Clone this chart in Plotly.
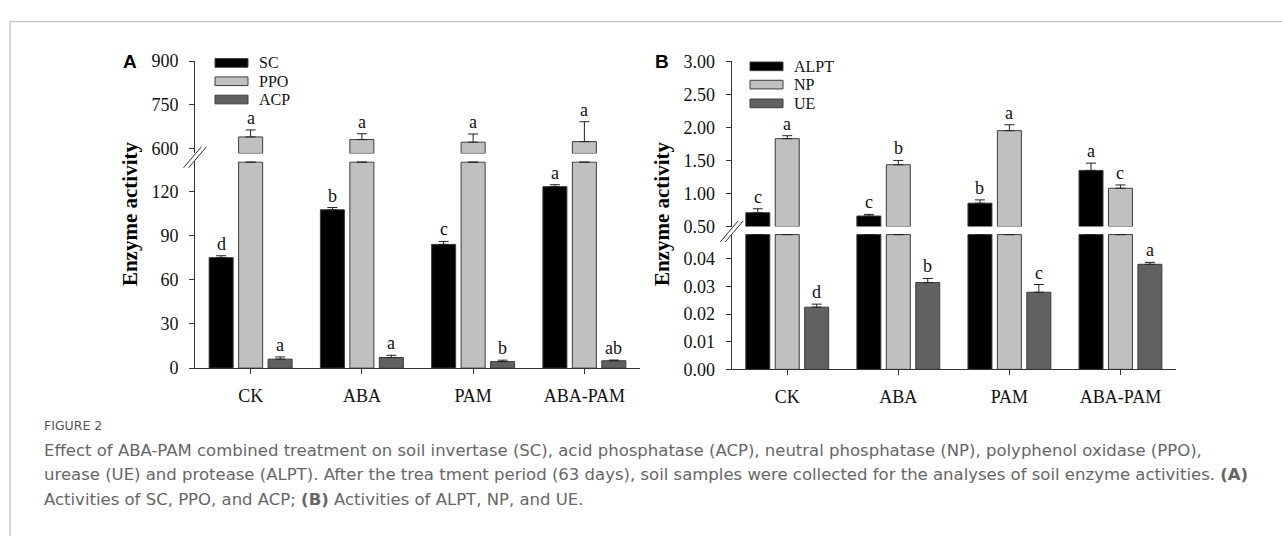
import plotly.graph_objects as go

W, H = 1282, 536

categories = ["CK", "ABA", "PAM", "ABA-PAM"]

# Panel A
a_names = ["SC", "PPO", "ACP"]
sc_mean = [75.0, 107.5, 84.0, 123.2]
sc_err = [1.3, 1.5, 2.0, 1.3]
sc_sig = ["d", "b", "c", "a"]
ppo_mean = [640.0, 631.0, 622.0, 624.0]
ppo_err = [24.0, 20.0, 28.0, 68.0]
ppo_sig = ["a", "a", "a", "a"]
acp_mean = [6.1, 7.2, 4.4, 5.0]
acp_err = [1.5, 1.5, 1.0, 0.5]
acp_sig = ["a", "a", "b", "ab"]

# Panel B
b_names = ["ALPT", "NP", "UE"]
alpt_mean = [0.71, 0.66, 0.854, 1.35]
alpt_err = [0.06, 0.025, 0.05, 0.11]
alpt_sig = ["c", "c", "b", "a"]
np_mean = [1.83, 1.436, 1.951, 1.08]
np_err = [0.045, 0.065, 0.09, 0.05]
np_sig = ["a", "b", "a", "c"]
ue_mean = [0.0225, 0.0314, 0.0279, 0.0380]
ue_err = [0.0011, 0.0015, 0.0028, 0.0007]
ue_sig = ["d", "b", "c", "a"]

a_ticks_low = [0, 30, 60, 90, 120]
a_ticks_high = [600, 750, 900]
b_ticks_low = [0, 0.01, 0.02, 0.03, 0.04]
b_ticks_high = [0.5, 1.0, 1.5, 2.0, 2.5, 3.0]

fills = ["#000000", "#c0c0c0", "#616161"]
edge = "#3c3c3c"
serif = "Liberation Serif"
offsets = [-0.265, 0.0, 0.265]
bar_w = 0.216


def px(x):
    return x / W


def py(y):
    return 1 - y / H


fig = go.Figure()

panels = [
    dict(xa="x", ya_low="y", ya_high="y2",
         series=[(sc_mean, sc_err, sc_sig), (ppo_mean, ppo_err, ppo_sig), (acp_mean, acp_err, acp_sig)],
         low_top=140.5, low_px=215, high_bottom=583.5, high_top=900),
    dict(xa="x2", ya_low="y3", ya_high="y4",
         series=[(alpt_mean, alpt_err, alpt_sig), (np_mean, np_err, np_sig), (ue_mean, ue_err, ue_sig)],
         low_top=0.0491, low_px=141, high_bottom=0.5, high_top=3.0),
]

annotations = []
for p in panels:
    cap = p["low_top"] * (1 - 1.0 / p["low_px"])
    for j, (mean, err, sig) in enumerate(p["series"]):
        xs = [i + offsets[j] for i in range(len(categories))]
        high = [m > p["low_top"] for m in mean]
        # lower segment: bars that exceed the segment are closed just below its top
        fig.add_trace(go.Bar(
            x=xs, y=[min(m, cap) for m in mean], width=bar_w, xaxis=p["xa"], yaxis=p["ya_low"],
            marker=dict(color=fills[j], line=dict(color=edge, width=1)),
            error_y=dict(type="data", symmetric=False,
                         array=[0 if h else e for e, h in zip(err, high)],
                         arrayminus=[0] * len(mean), color="#222222", thickness=1, width=5),
            showlegend=False, hoverinfo="skip"))
        # upper segment: only the bars that reach it, starting at the segment bottom
        hx = [x for x, h in zip(xs, high) if h]
        if hx:
            fig.add_trace(go.Bar(
                x=hx, y=[m - p["high_bottom"] for m, h in zip(mean, high) if h],
                base=p["high_bottom"], width=bar_w, xaxis=p["xa"], yaxis=p["ya_high"],
                marker=dict(color=fills[j], line=dict(color=edge, width=1)),
                error_y=dict(type="data", symmetric=False,
                             array=[e for e, h in zip(err, high) if h],
                             arrayminus=[0] * len(hx), color="#222222", thickness=1, width=5),
                showlegend=False, hoverinfo="skip"))
        for i in range(len(categories)):
            annotations.append(dict(
                x=xs[i], y=mean[i] + err[i],
                xref=p["xa"], yref=p["ya_high"] if high[i] else p["ya_low"],
                text=sig[i], showarrow=False, yanchor="bottom", yshift=0,
                font=dict(family=serif, size=18, color="#111")))

common_axis = dict(showline=True, linecolor="#333", linewidth=1, ticks="outside",
                   ticklen=5, tickcolor="#333", showgrid=False, zeroline=False,
                   tickfont=dict(family=serif, size=18, color="#111"))

fig.update_layout(
    width=W, height=H, autosize=False,
    margin=dict(l=0, r=0, t=0, b=0),
    paper_bgcolor="white", plot_bgcolor="rgba(0,0,0,0)",
    barmode="overlay", showlegend=False,
    xaxis=dict(domain=[px(195), px(640)], range=[-0.5, 3.5], anchor="y",
               tickvals=list(range(4)), ticktext=categories, ticklabelstandoff=6, **common_axis),
    yaxis=dict(domain=[py(372), py(157)], range=[0, 140.5], anchor="x",
               tickvals=a_ticks_low, ticklabelstandoff=7, **common_axis),
    yaxis2=dict(domain=[py(149), py(53)], range=[583.5, 900], anchor="x",
                tickvals=a_ticks_high, ticklabelstandoff=7, **common_axis),
    xaxis2=dict(domain=[px(731.7), px(1176)], range=[-0.5, 3.5], anchor="y3",
                tickvals=list(range(4)), ticktext=categories, ticklabelstandoff=6, **common_axis),
    yaxis3=dict(domain=[py(373.3), py(232.3)], range=[0, 0.0491], anchor="x2",
                tickvals=b_ticks_low, tickformat=".2f", ticklabelstandoff=7, **common_axis),
    yaxis4=dict(domain=[py(225), py(53.3)], range=[0.5, 3.0], anchor="x2",
                tickvals=b_ticks_high, tickformat=".2f", ticklabelstandoff=7, **common_axis),
)

shapes = []
# outer frame
shapes.append(dict(type="rect", xref="paper", yref="paper",
                   x0=px(10), x1=px(1300), y0=py(560), y1=py(12),
                   line=dict(color="#c9c9c9", width=1.5), fillcolor="rgba(0,0,0,0)"))

# axis break marks
for ax_x, yc0 in [(195, 153), (731.7, 230)]:
    for dx in (-2.5, 2.5):
        xc = ax_x + dx
        shapes.append(dict(type="line", xref="paper", yref="paper",
                           x0=px(xc - 9), x1=px(xc + 9), y0=py(yc0 + 11), y1=py(yc0 - 11),
                           line=dict(color="#333", width=1)))

# legends
legend_defs = [(a_names, 215, 257, [55, 74, 93]), (b_names, 750, 792, [58.5, 77.5, 97])]
for names, lx, tx, rows in legend_defs:
    for j, name in enumerate(names):
        yc = rows[j]
        shapes.append(dict(type="rect", xref="paper", yref="paper",
                           x0=px(lx), x1=px(lx + 33), y0=py(yc + 4.5), y1=py(yc - 4.5),
                           fillcolor=fills[j], line=dict(color=edge, width=1)))
        annotations.append(dict(x=px(tx), y=py(yc), xref="paper", yref="paper",
                                text=name, showarrow=False, xanchor="left", yanchor="middle",
                                font=dict(family=serif, size=16, color="#111")))

# panel letters and axis titles
for letter, lx in [("A", 130), ("B", 662)]:
    annotations.append(dict(x=px(lx), y=py(53), xref="paper", yref="paper", text="<b>%s</b>" % letter,
                            showarrow=False, xanchor="center", yanchor="middle",
                            font=dict(family="Liberation Sans", size=19, color="#000")))
for tx in [130, 662]:
    annotations.append(dict(x=px(tx), y=py(212), xref="paper", yref="paper",
                            text="<b>Enzyme activity</b>", textangle=-90, showarrow=False,
                            xanchor="center", yanchor="middle",
                            font=dict(family=serif, size=21, color="#000")))

# caption
cap_font = dict(family="DejaVu Sans", size=16.5, color="#666666")
annotations.append(dict(x=px(42), y=py(432), xref="paper", yref="paper", text="FIGURE 2",
                        showarrow=False, xanchor="left", yanchor="middle",
                        font=dict(family="DejaVu Sans", size=12.5, color="#555")))
cap_lines = [
    "Effect of ABA-PAM combined treatment on soil invertase (SC), acid phosphatase (ACP), neutral phosphatase (NP), polyphenol oxidase (PPO),",
    "urease (UE) and protease (ALPT). After the trea tment period (63 days), soil samples were collected for the analyses of soil enzyme activities. <b>(A)</b>",
    "Activities of SC, PPO, and ACP; <b>(B)</b> Activities of ALPT, NP, and UE.",
]
for k, line in enumerate(cap_lines):
    annotations.append(dict(x=px(42), y=py(458 + 25 * k), xref="paper", yref="paper", text=line,
                            showarrow=False, xanchor="left", yanchor="middle", font=cap_font))

fig.update_layout(shapes=shapes, annotations=annotations)
fig.write_html(
    "out.html",
    config={"displayModeBar": False, "staticPlot": True},
    post_script=(
        "document.documentElement.style.margin='0';"
        "document.body.style.margin='0';"
        "document.body.style.overflow='hidden';"
        "var d=document.getElementById('{plot_id}');"
        "d.style.position='fixed';d.style.left='0px';d.style.top='0px';"
    ),
)
